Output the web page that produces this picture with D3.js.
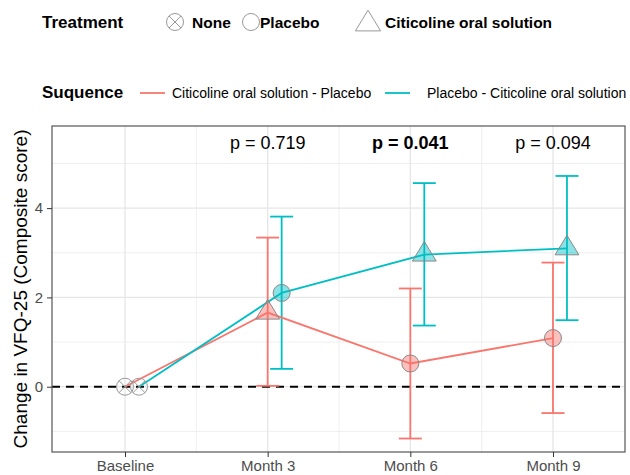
<!DOCTYPE html>
<html><head><meta charset="utf-8">
<script src="https://cdn.jsdelivr.net/npm/d3@7"></script>
<style>body{margin:0;background:#fff;} text{font-family:"Liberation Sans",Arial,sans-serif;}</style>
</head><body><svg id="c" width="630" height="475"></svg>
<script>
const categories = ["Baseline", "Month 3", "Month 6", "Month 9"];
const sequences = ["Citicoline oral solution - Placebo", "Placebo - Citicoline oral solution"];
const treatments = ["None", "Placebo", "Citicoline oral solution"];
const meanCP = [0, 1.66, 0.52, 1.09];
const lowerCP = [null, 0.02, -1.16, -0.59];
const upperCP = [null, 3.34, 2.20, 2.78];
const treatCP = ["None", "Citicoline oral solution", "Placebo", "Placebo"];
const meanPC = [0, 2.10, 2.96, 3.10];
const lowerPC = [null, 0.40, 1.37, 1.49];
const upperPC = [null, 3.81, 4.56, 4.72];
const treatPC = ["None", "Placebo", "Citicoline oral solution", "Citicoline oral solution"];
const pLabels = [null, "p = 0.719", "p = 0.041", "p = 0.094"];
const pValues = [null, 0.719, 0.041, 0.094];
const yTicks = [0, 2, 4];
const yMinor = [-1, 1, 3, 5];

const colors = ["#F8766D", "#00BFC4"];
const svg = d3.select("#c");
const L = 52, R = 625, T = 126, B = 452;
const x = d3.scaleLinear().domain([-0.5117, 3.5047]).range([L, R]);
const y = d3.scaleLinear().domain([-1.462, 5.839]).range([B, T]);
const dodge = [0, 0.098];

// grid
const g = svg.append("g");
yMinor.forEach(v => g.append("line").attr("x1", L).attr("x2", R).attr("y1", y(v)).attr("y2", y(v)).attr("stroke", "#ebebeb").attr("stroke-width", 0.8));
[0.5, 1.5, 2.5].forEach(v => g.append("line").attr("y1", T).attr("y2", B).attr("x1", x(v)).attr("x2", x(v)).attr("stroke", "#ebebeb").attr("stroke-width", 0.8));
yTicks.forEach(v => g.append("line").attr("x1", L).attr("x2", R).attr("y1", y(v)).attr("y2", y(v)).attr("stroke", "#e6e6e6").attr("stroke-width", 1.3));
categories.forEach((c, i) => g.append("line").attr("y1", T).attr("y2", B).attr("x1", x(i)).attr("x2", x(i)).attr("stroke", "#e6e6e6").attr("stroke-width", 1.3));

// dashed zero
svg.append("line").attr("x1", L).attr("x2", R).attr("y1", y(0)).attr("y2", y(0))
  .attr("stroke", "#000").attr("stroke-width", 1.9).attr("stroke-dasharray", "8,6");

const series = [
  {mean: meanCP, lo: lowerCP, hi: upperCP, tr: treatCP},
  {mean: meanPC, lo: lowerPC, hi: upperPC, tr: treatPC}
];

// error bars
series.forEach((s, si) => {
  s.mean.forEach((m, i) => {
    if (s.lo[i] === null) return;
    const cx = x(i + dodge[si]);
    const eg = svg.append("g").attr("stroke", colors[si]).attr("stroke-width", 1.8);
    eg.append("line").attr("x1", cx).attr("x2", cx).attr("y1", y(s.lo[i])).attr("y2", y(s.hi[i]));
    eg.append("line").attr("x1", cx - 11.5).attr("x2", cx + 11.5).attr("y1", y(s.lo[i])).attr("y2", y(s.lo[i]));
    eg.append("line").attr("x1", cx - 11.5).attr("x2", cx + 11.5).attr("y1", y(s.hi[i])).attr("y2", y(s.hi[i]));
  });
});

// lines
series.forEach((s, si) => {
  const line = d3.line().x((d, i) => x(i + dodge[si])).y(d => y(d));
  svg.append("path").attr("d", line(s.mean)).attr("fill", "none").attr("stroke", colors[si]).attr("stroke-width", 1.8);
});

function drawShape(sel, type, cx, cy, fill, stroke, size) {
  if (type === "None") {
    const r = size;
    sel.append("circle").attr("cx", cx).attr("cy", cy).attr("r", r).attr("fill", "none").attr("stroke", stroke).attr("stroke-width", 1);
    const d = r * Math.SQRT1_2;
    sel.append("line").attr("x1", cx - d).attr("y1", cy - d).attr("x2", cx + d).attr("y2", cy + d).attr("stroke", stroke).attr("stroke-width", 1);
    sel.append("line").attr("x1", cx - d).attr("y1", cy + d).attr("x2", cx + d).attr("y2", cy - d).attr("stroke", stroke).attr("stroke-width", 1);
  } else if (type === "Placebo") {
    sel.append("circle").attr("cx", cx).attr("cy", cy).attr("r", size).attr("fill", fill).attr("stroke", stroke).attr("stroke-width", 1);
  } else {
    const w = size * 1.4, h = size * 2.3;
    const pts = [[cx, cy - h * 2 / 3], [cx + w, cy + h / 3], [cx - w, cy + h / 3]];
    sel.append("polygon").attr("points", pts.map(p => p.join(",")).join(" ")).attr("fill", fill).attr("stroke", stroke).attr("stroke-width", 1);
  }
}

// points
series.forEach((s, si) => {
  const fill = d3.color(colors[si]); fill.opacity = 0.45;
  s.mean.forEach((m, i) => {
    const pg = svg.append("g");
    drawShape(pg, s.tr[i], x(i + dodge[si]), y(m), s.tr[i] === "None" ? "none" : fill.toString(), s.tr[i] === "None" ? "#999" : "#888", 8.5);
  });
});

// panel border
svg.append("rect").attr("x", L).attr("y", T).attr("width", R - L).attr("height", B - T).attr("fill", "none").attr("stroke", "#555").attr("stroke-width", 1.2);

// axes
const yAxis = svg.append("g").attr("transform", `translate(${L},0)`)
  .call(d3.axisLeft(y).tickValues(yTicks).tickSize(5).tickPadding(4).tickFormat(d3.format("d")));
yAxis.select(".domain").remove();
yAxis.selectAll("line").attr("stroke", "#333");
yAxis.selectAll("text").attr("font-size", 15).attr("fill", "#4d4d4d").style("font-family", "Liberation Sans");

const xAxis = svg.append("g").attr("transform", `translate(0,${B})`)
  .call(d3.axisBottom(x).tickValues(d3.range(categories.length)).tickSize(5).tickPadding(3).tickFormat(i => categories[i]));
xAxis.select(".domain").remove();
xAxis.selectAll("line").attr("stroke", "#333");
xAxis.selectAll("text").attr("font-size", 15).attr("fill", "#4d4d4d").style("font-family", "Liberation Sans");

// axis title
svg.append("text").attr("transform", `translate(27,${(T + B) / 2}) rotate(-90)`)
  .attr("text-anchor", "middle").attr("font-size", 19).attr("fill", "#000")
  .text("Change in VFQ-25 (Composite score)");

// p labels
pLabels.forEach((p, i) => {
  if (!p) return;
  svg.append("text").attr("x", x(i)).attr("y", 149).attr("text-anchor", "middle")
    .attr("font-size", 18).attr("font-weight", pValues[i] < 0.05 ? "bold" : "normal").attr("fill", "#000").text(p);
});

// legend 1
const leg = svg.append("g");
leg.append("text").attr("x", 42).attr("y", 28).attr("font-size", 17).attr("font-weight", "bold").text("Treatment");
const legX = [{sx: 175, tx: 192}, {sx: 251, tx: 260}, {sx: 368, tx: 385}];
treatments.forEach((t, i) => {
  drawShape(leg, t, legX[i].sx, t === "Citicoline oral solution" ? 24 : 22, "none", "#999", t === "Citicoline oral solution" ? 9 : 8.5);
  leg.append("text").attr("x", legX[i].tx).attr("y", 28).attr("font-size", 15.5).attr("font-weight", "bold").text(t);
});

// legend 2
leg.append("text").attr("x", 42).attr("y", 98).attr("font-size", 17).attr("font-weight", "bold").text("Suquence");
const leg2 = [{lx: 140, tx: 172}, {lx: 385, tx: 427}];
sequences.forEach((s, i) => {
  leg.append("line").attr("x1", leg2[i].lx).attr("x2", leg2[i].lx + 25).attr("y1", 93).attr("y2", 93).attr("stroke", colors[i]).attr("stroke-width", 1.8);
  leg.append("text").attr("x", leg2[i].tx).attr("y", 98).attr("font-size", 14).text(s);
});
</script></body></html>
